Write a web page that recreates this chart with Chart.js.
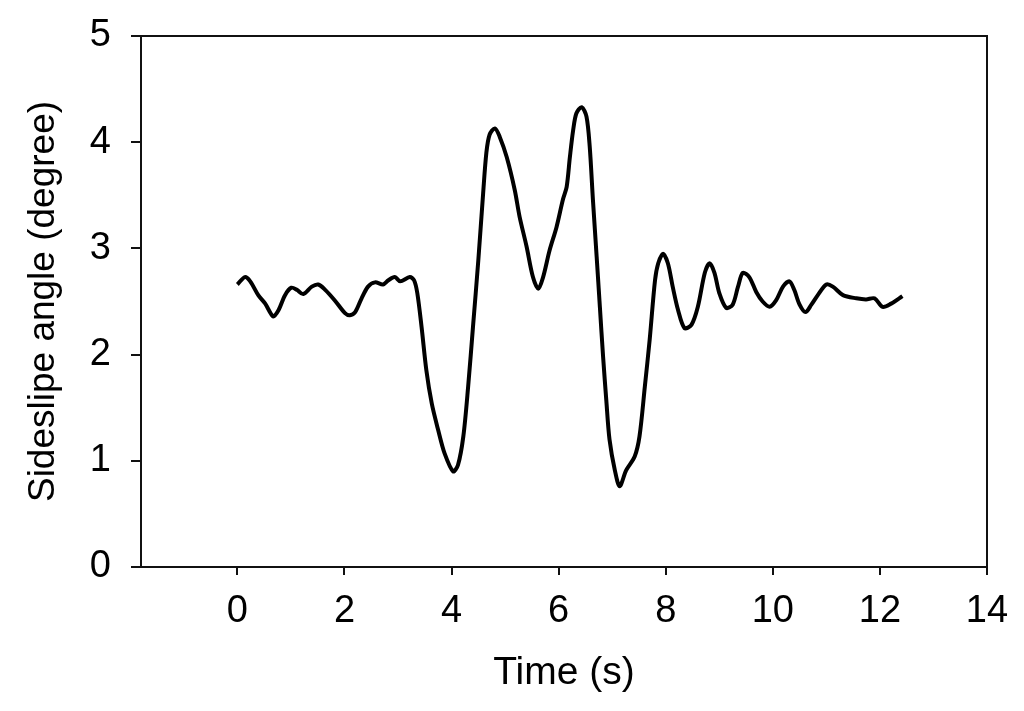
<!DOCTYPE html>
<html>
<head>
<meta charset="utf-8">
<script src="https://cdn.jsdelivr.net/npm/chart.js@4"></script>
<style>
  html, body { margin: 0; padding: 0; background: #fff; }
  #wrap { width: 1024px; height: 711px; position: relative; }
</style>
</head>
<body>
<div id="wrap"><canvas id="chart"></canvas></div>
<script>
// sideslip angle vs time
const timeS = [
  0.00, 0.14, 0.24, 0.39, 0.52, 0.67, 0.77, 0.89, 1.01, 1.11, 1.23, 1.39, 1.51, 1.64, 1.82,
  2.01, 2.10, 2.20, 2.32, 2.44, 2.57, 2.72, 2.82, 2.94, 3.04, 3.22, 3.30, 3.36, 3.44, 3.53,
  3.63, 3.75, 3.87, 4.03, 4.12, 4.22, 4.31, 4.40, 4.50, 4.59, 4.65, 4.71, 4.81, 4.90, 5.03,
  5.18, 5.27, 5.40, 5.52, 5.62, 5.71, 5.83, 5.96, 6.08, 6.15, 6.21, 6.27, 6.33, 6.43, 6.52,
  6.58, 6.64, 6.71, 6.77, 6.83, 6.89, 6.95, 7.05, 7.14, 7.26, 7.42, 7.51, 7.61, 7.70, 7.80,
  7.86, 7.95, 8.04, 8.13, 8.23, 8.35, 8.48, 8.60, 8.73, 8.82, 8.91, 9.00, 9.13, 9.25, 9.35,
  9.44, 9.56, 9.69, 9.81, 9.94, 10.06, 10.19, 10.31, 10.40, 10.50, 10.61, 10.72, 10.84, 11.00, 11.12,
  11.31, 11.56, 11.74, 11.90, 12.05, 12.21, 12.36, 12.42
];
const sideslipDeg = [
  2.66, 2.73, 2.69, 2.56, 2.48, 2.36, 2.42, 2.56, 2.63, 2.61, 2.57, 2.64, 2.66, 2.61, 2.51,
  2.39, 2.37, 2.40, 2.53, 2.64, 2.68, 2.66, 2.70, 2.73, 2.69, 2.73, 2.70, 2.58, 2.26, 1.85,
  1.54, 1.29, 1.07, 0.90, 0.96, 1.23, 1.70, 2.26, 2.89, 3.52, 3.90, 4.07, 4.13, 4.05, 3.86,
  3.55, 3.30, 3.02, 2.73, 2.62, 2.73, 2.98, 3.20, 3.46, 3.58, 3.86, 4.11, 4.27, 4.33, 4.24,
  3.96, 3.46, 2.92, 2.45, 1.98, 1.57, 1.20, 0.91, 0.76, 0.91, 1.04, 1.23, 1.70, 2.14, 2.70,
  2.86, 2.95, 2.86, 2.64, 2.42, 2.25, 2.28, 2.45, 2.77, 2.86, 2.77, 2.58, 2.44, 2.47, 2.64,
  2.77, 2.73, 2.59, 2.50, 2.45, 2.51, 2.64, 2.69, 2.61, 2.47, 2.40, 2.47, 2.56, 2.66, 2.64,
  2.56, 2.53, 2.52, 2.53, 2.45, 2.48, 2.53, 2.55
];
const xTicks = [0, 2, 4, 6, 8, 10, 12, 14];
const yTicks = [0, 1, 2, 3, 4, 5];

const FONT = "'Liberation Sans', Arial, sans-serif";
const INK = '#111';

// top and right edges of the plot box
const frameBox = {
  id: 'frameBox',
  afterDraw(chart) {
    const { ctx, chartArea: a } = chart;
    ctx.save();
    ctx.strokeStyle = INK;
    ctx.lineWidth = 2;
    ctx.beginPath();
    ctx.moveTo(a.left, a.top);
    ctx.lineTo(a.right, a.top);
    ctx.lineTo(a.right, a.bottom);
    ctx.stroke();
    ctx.restore();
  }
};

// fixed box sizes so the plot area lands where the reference has it
function fixBox(s, w, h) {
  if (w != null) s.width = w;
  if (h != null) s.height = h;
  s.paddingTop = 0; s.paddingBottom = 0;
  s.paddingLeft = 0; s.paddingRight = 0;
}

new Chart(document.getElementById('chart'), {
  type: 'line',
  data: {
    datasets: [{
      label: 'Sideslip angle',
      data: timeS.map((t, i) => ({ x: t, y: sideslipDeg[i] })),
      borderColor: '#000',
      borderWidth: 4,
      pointRadius: 0,
      tension: 0.3,
      fill: false
    }]
  },
  options: {
    responsive: true,
    maintainAspectRatio: false,
    animation: false,
    layout: { padding: { top: 36, right: 37, left: 0, bottom: 0 } },
    plugins: { legend: { display: false }, tooltip: { enabled: false } },
    scales: {
      x: {
        type: 'linear',
        min: -1.8,
        max: 14,
        afterBuildTicks: s => { s.ticks = xTicks.map(v => ({ value: v })); },
        afterFit: s => fixBox(s, null, 144),
        grid: { drawOnChartArea: false, drawTicks: true, tickLength: 8, color: INK, lineWidth: 2 },
        border: { display: true, color: INK, width: 2 },
        ticks: { color: '#000', padding: 14, font: { family: FONT, size: 38 } },
        title: {
          display: true, text: 'Time (s)', color: '#000',
          padding: { top: 14, bottom: 14 },
          font: { family: FONT, size: 39 }
        }
      },
      y: {
        min: 0,
        max: 5,
        afterBuildTicks: s => { s.ticks = yTicks.map(v => ({ value: v })); },
        afterFit: s => fixBox(s, 141, null),
        grid: { drawOnChartArea: false, drawTicks: true, tickLength: 10, color: INK, lineWidth: 2 },
        border: { display: true, color: INK, width: 2 },
        ticks: { color: '#000', padding: 20, font: { family: FONT, size: 38 } },
        title: {
          display: true, text: 'Sideslipe angle (degree)', color: '#000',
          padding: { top: 22, bottom: 22 },
          font: { family: FONT, size: 37 }
        }
      }
    }
  },
  plugins: [frameBox]
});
</script>
</body>
</html>
